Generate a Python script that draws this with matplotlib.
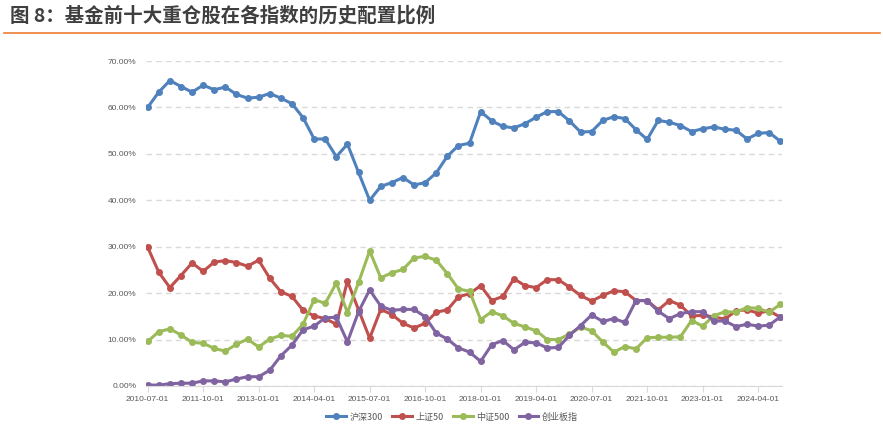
import matplotlib.pyplot as plt
import pandas as pd
from matplotlib.ticker import PercentFormatter
from matplotlib.lines import Line2D

plt.rcParams['font.family'] = ['Liberation Sans', 'Noto Sans CJK SC', 'DejaVu Sans']

# quarterly dates, 2010-07-01 .. 2024-10-01
dates = pd.date_range('2010-07-01', '2024-10-01', freq='QS-JAN')

hs300 = [60.0, 63.3, 65.8, 64.5, 63.3, 64.8, 63.8, 64.4, 62.8, 62.0,
         62.2, 63.0, 62.0, 60.8, 57.8, 53.2, 53.2, 49.4, 52.1, 46.0,
         40.0, 43.0, 43.8, 44.9, 43.3, 43.8, 45.9, 49.5, 51.8, 52.3,
         59.1, 57.1, 55.9, 55.6, 56.5, 57.9, 59.1, 59.1, 57.1, 54.7,
         54.8, 57.2, 58.0, 57.6, 55.2, 53.1, 57.2, 56.8, 56.1, 54.8,
         55.4, 55.8, 55.3, 55.1, 53.2, 54.4, 54.6, 52.7]
sz50 = [29.9, 24.5, 21.2, 23.8, 26.5, 24.7, 26.7, 27.0, 26.6, 25.8,
        27.1, 23.2, 20.3, 19.3, 16.3, 15.1, 14.5, 13.3, 22.6, 16.4,
        10.3, 16.5, 15.4, 13.5, 12.5, 13.5, 15.9, 16.4, 19.2, 19.9,
        21.6, 18.4, 19.3, 23.1, 21.6, 21.2, 22.9, 22.9, 21.3, 19.5,
        18.3, 19.5, 20.5, 20.3, 18.4, 18.4, 16.4, 18.4, 17.4, 15.1,
        15.2, 14.9, 14.4, 16.2, 16.4, 15.7, 16.2, 14.8]
zz500 = [9.6, 11.7, 12.3, 11.0, 9.4, 9.2, 8.1, 7.5, 9.0, 10.1,
         8.4, 10.1, 10.9, 10.7, 13.3, 18.6, 17.8, 22.2, 15.8, 22.3,
         29.1, 23.3, 24.4, 25.1, 27.6, 27.9, 27.1, 24.2, 20.9, 20.4,
         14.3, 16.0, 15.1, 13.5, 12.7, 11.9, 10.0, 10.0, 11.2, 12.7,
         11.9, 9.5, 7.3, 8.5, 8.0, 10.4, 10.5, 10.5, 10.6, 14.1,
         12.9, 15.1, 16.0, 15.9, 16.9, 16.7, 15.9, 17.6]
cyb = [0.2, 0.2, 0.5, 0.6, 0.6, 1.1, 1.1, 0.9, 1.5, 2.0,
       2.0, 3.4, 6.5, 8.8, 12.1, 12.9, 14.7, 14.8, 9.5, 16.0,
       20.7, 17.2, 16.3, 16.5, 16.5, 14.9, 11.4, 10.1, 8.2, 7.3,
       5.3, 8.9, 9.8, 7.8, 9.4, 9.3, 8.2, 8.3, 10.9, 13.0,
       15.3, 13.9, 14.5, 13.7, 18.4, 18.4, 16.1, 14.5, 15.6, 16.0,
       16.0, 14.0, 14.0, 12.8, 13.3, 12.9, 13.1, 14.9]

names = ['沪深300', '上证50', '中证500', '创业板指']
colors = ['#4F81BD', '#C0504D', '#9BBB59', '#8064A2']
title = '图 8：基金前十大重仓股在各指数的历史配置比例'

fig = plt.figure(figsize=(8.83, 4.32), dpi=100)
ax = fig.add_axes([146 / 883, 1 - 386 / 432, 636 / 883, 325 / 432])

x = range(len(dates))
for vals, name, c in zip([hs300, sz50, zz500, cyb], names, colors):
    ax.plot(x, vals, color=c, lw=2.2, marker='o', ms=4, label=name)

ax.set_ylim(0, 70)
ax.set_yticks(range(0, 71, 10))
ax.yaxis.set_major_formatter(PercentFormatter(decimals=2))
ax.set_xlim(-0.15, len(dates) - 0.85)
tick_idx = list(range(0, len(dates), 5))
ax.set_xticks(tick_idx)
ax.set_xticklabels([dates[i].strftime('%Y-%m-%d') for i in tick_idx])

ax.grid(axis='y', color='#D9D9D9', ls=(0, (4, 3)), lw=1)
ax.set_axisbelow(True)
for s in ['top', 'right', 'left']:
    ax.spines[s].set_visible(False)
ax.spines['bottom'].set_color('#D9D9D9')
ax.tick_params(axis='y', length=0, labelsize=6, labelcolor='#595959', pad=7)
ax.tick_params(axis='x', length=4, color='#D9D9D9', labelsize=6,
               labelcolor='#595959', pad=3)

handles = [Line2D([], [], color=c, lw=2.2, marker='o', ms=4) for c in colors]
fig.legend(handles, names, loc='center', bbox_to_anchor=(452 / 883, 1 - 417 / 432),
           ncol=4, frameon=False, handlelength=2.2,
           handletextpad=0.4, columnspacing=1.0,
           prop={'family': ['Noto Sans CJK SC', 'DejaVu Sans'], 'size': 6.5})
for t in fig.legends[0].get_texts():
    t.set_color('#595959')

fig.text(10 / 883, 1 - 16 / 432, title, fontsize=14, fontweight='bold',
         color='#3F3F3F', va='center', ha='left',
         family=['Noto Sans CJK SC', 'DejaVu Sans'])
fig.add_artist(Line2D([4 / 883, 880 / 883], [1 - 33 / 432, 1 - 33 / 432],
                      color='#ED7D31', lw=1.2))

fig.savefig('out.png', dpi=100)
